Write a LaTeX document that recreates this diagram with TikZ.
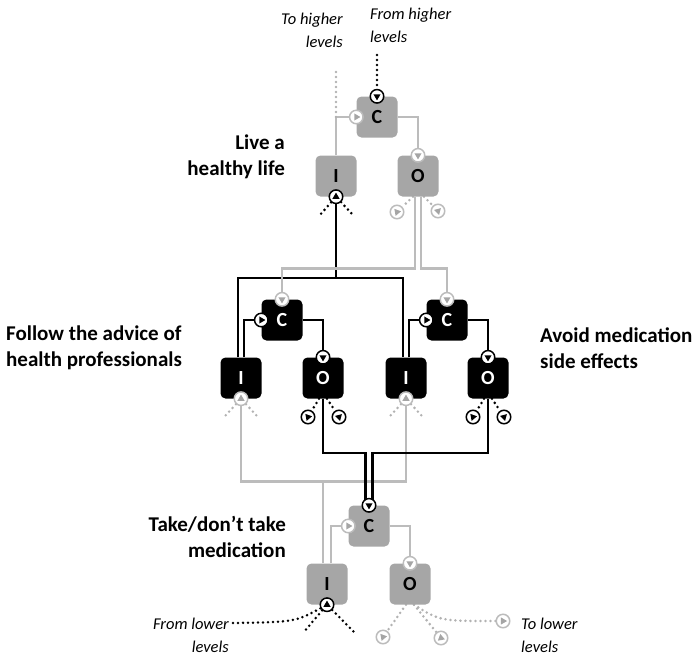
\documentclass[tikz,border=0pt]{standalone}
\usepackage{fontspec}
\setmainfont{Carlito}
\usetikzlibrary{calc,backgrounds}
\definecolor{boxgray}{RGB}{166,166,166}
\definecolor{linegray}{RGB}{188,188,188}
\definecolor{portgray}{RGB}{165,165,165}
\definecolor{dotgray}{RGB}{178,178,178}
\newcommand\porttri[2]{\fill[#1] ($(path picture bounding box.center)+(#2:4.1pt)$) -- ($(path picture bounding box.center)+(#2+120:4.1pt)$) -- ($(path picture bounding box.center)+(#2+240:4.1pt)$) -- cycle;}
\tikzset{
 ubox/.style={rounded corners=5pt, minimum width=41pt, minimum height=41pt, inner sep=0pt, font=\bfseries\fontsize{20}{20}\selectfont},
 gbox/.style={ubox, fill=boxgray, text=black},
 kbox/.style={ubox, fill=black, text=white},
 bport/.style={circle, draw=black, fill=white, line width=1.5pt, minimum size=13.5pt, inner sep=0pt, path picture={\porttri{black}{#1}}},
 gport/.style={circle, draw=linegray, fill=white, line width=1.5pt, minimum size=13.5pt, inner sep=0pt, path picture={\porttri{portgray}{#1}}},
 kline/.style={draw=black, line width=2.3pt},
 gline/.style={draw=linegray, line width=2.5pt},
 kdots/.style={draw=black, line width=2.8pt, line cap=round, dash pattern=on 0pt off 5pt},
 gdots/.style={draw=dotgray, line width=2.8pt, line cap=round, dash pattern=on 0pt off 5pt},
 lbl/.style={font=\bfseries\fontsize{21}{26}\selectfont, inner sep=0pt},
 ital/.style={font=\itshape\fontsize{16.5}{23}\selectfont, inner sep=0pt},
}
\begin{document}
\begin{tikzpicture}[x=1pt,y=-1pt]
\useasboundingbox (0,0) rectangle (698,659);
% boxes
\node[gbox] (C1) at (377,117) {C};
\node[gbox] (I1) at (336,176) {I};
\node[gbox] (O1) at (418,176) {O};
\node[kbox] (C2a) at (282,320) {C};
\node[kbox] (I2a) at (241,378) {I};
\node[kbox] (O2a) at (323,378) {O};
\node[kbox] (C2b) at (447,320) {C};
\node[kbox] (I2b) at (406,378) {I};
\node[kbox] (O2b) at (488,378) {O};
\node[gbox] (C3) at (369,526) {C};
\node[gbox] (I3) at (327,584) {I};
\node[gbox] (O3) at (410,584) {O};
% ports
\node[bport=-90] (C1t) at (C1.north) {};
\node[gport=0] (C1l) at (C1.west) {};
\node[gport=-90] (O1t) at (O1.north) {};
\node[bport=90] (I1b) at (I1.south) {};
\node[gport=10] (O1p) at (397,212) {};
\node[gport=165] (O1q) at (438,211) {};
\node[gport=-90] (C2at) at (C2a.north) {};
\node[bport=0] (C2al) at (C2a.west) {};
\node[bport=-90] (O2at) at (O2a.north) {};
\node[gport=90] (I2ab) at (I2a.south) {};
\node[bport=10] (O2ap) at (308,417) {};
\node[bport=165] (O2aq) at (339,417) {};
\node[gport=-90] (C2bt) at (C2b.north) {};
\node[bport=0] (C2bl) at (C2b.west) {};
\node[bport=-90] (O2bt) at (O2b.north) {};
\node[gport=90] (I2bb) at (I2b.south) {};
\node[bport=10] (O2bp) at (473,417) {};
\node[bport=165] (O2bq) at (504,417) {};
\node[bport=-90] (C3t) at (C3.north) {};
\node[gport=0] (C3l) at (C3.west) {};
\node[gport=-90] (O3t) at (O3.north) {};
\node[bport=90] (I3b) at (I3.south) {};
\node[gport=10] (O3p) at (383,637) {};
\node[gport=100] (O3q) at (441,638) {};
\node[gport=0] (O3r) at (503,621) {};
% free ends
\coordinate (thigh) at (336,72);
\coordinate (fhigh) at (377,55);
\coordinate (bar) at (336,278);
\coordinate (I1d1) at (320,215);
\coordinate (I1d2) at (353,215);
\coordinate (I2ad1) at (225,416);
\coordinate (I2ad2) at (257,416);
\coordinate (I2bd1) at (390,416);
\coordinate (I2bd2) at (422,416);
\coordinate (I3d1) at (303,633);
\coordinate (I3d2) at (355,633);
\coordinate (flow) at (233,623);
% labels
\node[ital, align=right, anchor=east] (thl) at (343,30) {To higher\\levels};
\node[ital, align=left, anchor=west] (fhl) at (370,25) {From higher\\levels};
\node[lbl, align=right, anchor=east] (live) at (285,157) {Live a\\healthy life};
\node[lbl, align=left, anchor=west] (follow) at (6,348) {Follow the advice of\\health professionals};
\node[lbl, align=left, anchor=west] (avoid) at (540,348) {Avoid medication\\side effects};
\node[lbl, align=right, anchor=east] (take) at (286,537) {Take/don’t take\\medication};
\node[ital, align=right, anchor=east] (flv) at (229,635) {From lower\\levels};
\node[ital, align=left, anchor=west] (tlv) at (521,635) {To lower\\levels};
% connectors
\begin{scope}[on background layer]
\draw[gline] (C1.east) -| (O1t);
\draw[gline] (I1.north) |- (C1l);
\draw[gdots] (I1.north |- C1l) -- (thigh);
\draw[kdots] (fhigh) -- (C1t);
\draw[kline] (I1b) -- (bar);
\draw[kline] ([xshift=-3pt]I2a.north) |- (bar) -| ([xshift=-3pt]I2b.north);
\draw[kdots] (I1b) -- (I1d1);
\draw[kdots] (I1b) -- (I1d2);
\draw[gline] ([xshift=-3pt]O1.south) -- ++(0,72) -| (C2at);
\draw[gline] ([xshift=3pt]O1.south) -- ++(0,72) -| (C2bt);
\draw[gdots] ([xshift=-5pt]O1.south) -- (O1p);
\draw[gdots] ([xshift=6pt]O1.south) -- (O1q);
\draw[kline] ([xshift=3pt]I2a.north) |- (C2al);
\draw[kline] (C2a.east) -| (O2at);
\draw[kline] ([xshift=3pt]I2b.north) |- (C2bl);
\draw[kline] (C2b.east) -| (O2bt);
\draw[gdots] (I2ab) -- (I2ad1);
\draw[gdots] (I2ab) -- (I2ad2);
\draw[gdots] (I2bb) -- (I2bd1);
\draw[gdots] (I2bb) -- (I2bd2);
\draw[kdots] ([xshift=-4pt]O2a.south) -- (O2ap);
\draw[kdots] ([xshift=4pt]O2a.south) -- (O2aq);
\draw[kdots] ([xshift=-4pt]O2b.south) -- (O2bp);
\draw[kdots] ([xshift=4pt]O2b.south) -- (O2bq);
\draw[gline] (I2ab) -- ++(0,83) -| (I2bb);
\draw[gline] ([xshift=-4pt]I3.north) -- ++(0,-81);
\draw[gline] ([xshift=4pt]I3.north) |- (C3l);
\draw[kline] (O2a.south) -- ++(0,54) -| ([xshift=-3.5pt]C3t.center);
\draw[kline] (O2b.south) -- ++(0,54) -| ([xshift=3.5pt]C3t.center);
\draw[gline] (C3.east) -| (O3t);
\draw[kdots] (flow) .. controls (295,622) .. (I3b);
\draw[kdots] (I3b) -- (I3d1);
\draw[kdots] (I3b) -- (I3d2);
\draw[gdots] ([xshift=-4pt]O3.south) -- (O3p);
\draw[gdots] ([xshift=4pt]O3.south) -- (O3q);
\draw[gdots] ([xshift=4pt]O3.south) .. controls (440,621) .. (O3r);
\end{scope}
\end{tikzpicture}
\end{document}
